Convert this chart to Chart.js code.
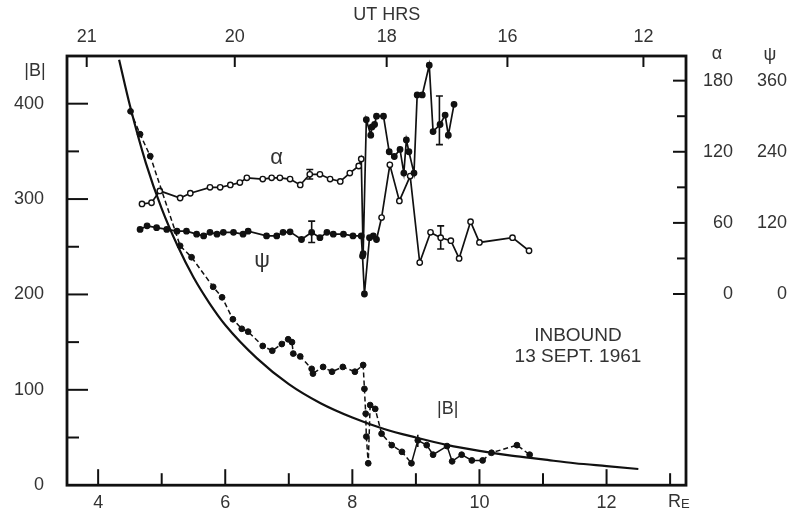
<!DOCTYPE html>
<html>
<head>
<meta charset="utf-8">
<title>Inbound 13 Sept 1961</title>
<script src="https://cdn.jsdelivr.net/npm/chart.js@4.4.0/dist/chart.umd.min.js"></script>
<style>
   html, body { margin: 0; padding: 0; background: #fff; }
   #fieldChart { display: block; }
</style>
</head>
<body>
<canvas id="fieldChart" width="791" height="519"></canvas>
<script>

// axes
const reMin = 3.51;
const reMax = 13.25;
const reTicks = [4, 6, 8, 10, 12];
const reMinorTicks = [5, 7, 9, 11, 13];
const utTickPos = [3.82, 6.15, 8.54, 10.44, 12.58];
const utTickLabels = ['21', '20', '18', '16', '12'];
const bTicks = [0, 100, 200, 300, 400];
const bMinorTicks = [50, 150, 250, 350];
const alphaTicks = [0, 60, 120, 180];
const alphaMinorTicks = [30, 90, 150];
const psiTicks = [0, 120, 240, 360];

// |B| measured (gammas)
const obsR = [4.51, 4.66, 4.82, 5.29, 5.47, 5.81, 5.95, 6.12, 6.26, 6.36, 6.59, 6.74, 6.89, 6.99, 7.05,
              7.07, 7.18, 7.36, 7.38, 7.54, 7.68, 7.85, 8.04, 8.17, 8.19, 8.21, 8.22, 8.25, 8.28, 8.36,
              8.46, 8.62, 8.78, 8.93, 9.03, 9.17, 9.27, 9.49, 9.57, 9.72, 9.88, 10.05, 10.19, 10.59, 10.79];
const obsB = [392, 368, 345, 251, 239, 208, 197, 174, 164, 161, 146, 141, 148, 153, 150,
              138, 135, 122, 117, 124, 119, 124, 119, 126, 101, 75, 51, 23, 84, 80,
              54, 42, 35, 23, 47, 42, 32, 41, 25, 32, 26, 26, 34, 42, 32];

// |B| reference curve
const curveR = [4.33, 4.5, 4.75, 5.0, 5.25, 5.5, 5.75, 6.0, 6.5, 7.0, 7.5, 8.0, 8.5, 9.0, 9.5, 10.0, 10.5, 11.0, 11.5, 12.0, 12.5];
const curveB = [446, 398, 338, 290, 251, 218, 191, 168, 133, 106, 86, 71, 59, 50, 42, 36, 31, 27, 23, 20, 17];

// alpha (deg)
const alphaR = [4.69, 4.84, 4.97, 5.29, 5.45, 5.76, 5.92, 6.08, 6.23, 6.34, 6.59, 6.73, 6.86, 7.02, 7.18,
                7.33, 7.49, 7.65, 7.81, 7.96, 8.10, 8.14, 8.17, 8.22, 8.29, 8.31, 8.35, 8.38, 8.49, 8.58,
                8.66, 8.75, 8.81, 8.85, 8.89, 8.97, 9.02, 9.10, 9.21, 9.27, 9.38, 9.46, 9.51, 9.60];
const alphaV = [76, 77, 87, 81, 85, 90, 90, 92, 94, 98, 97, 98, 98, 97, 92,
                101, 101, 97, 95, 102, 108, 114, 34, 147, 134, 141, 143, 150, 150, 120,
                116, 122, 102, 130, 120, 102, 168, 168, 193, 137, 143, 151, 134, 160];

// psi (deg)
const psiR = [4.66, 4.77, 4.92, 5.08, 5.24, 5.39, 5.55, 5.66, 5.76, 5.87, 5.97, 6.13, 6.28, 6.36, 6.65,
              6.81, 6.91, 7.02, 7.20, 7.36, 7.49, 7.60, 7.70, 7.86, 8.01, 8.14, 8.16, 8.19, 8.27, 8.33,
              8.38, 8.46, 8.59, 8.74, 8.91, 9.06, 9.23, 9.39, 9.55, 9.68, 9.86, 10.00, 10.52, 10.78];
const psiV = [109, 115, 112, 109, 106, 106, 101, 98, 104, 101, 104, 104, 101, 106, 98,
              98, 104, 105, 92, 104, 95, 104, 101, 101, 98, 98, 64, 0, 95, 98,
              92, 129, 218, 157, 199, 53, 104, 95, 90, 60, 122, 87, 95, 73];

// error bars
const alphaErrR = [7.33, 9.37];
const alphaErrLo = [97, 126];
const alphaErrHi = [105, 167];
const psiErrR = [7.36, 9.39];
const psiErrLo = [87, 76];
const psiErrHi = [123, 115];
const gapMarkR = [9.03];
const gapMarkLo = [40];
const gapMarkHi = [53];

const FONT = '"Liberation Sans", Arial, sans-serif';
const INK = '#111';
const TEXT = '#333';

function pts(xs, ys) {
   return xs.map((x, i) => ({ x: x, y: ys[i] }));
}

function errBars(xs, lo, hi, axis, caps) {
   return xs.map((x, i) => ({
      data: [{ x: x, y: lo[i] }, { x: x, y: hi[i] }],
      yAxisID: axis,
      borderColor: INK,
      borderWidth: 1.6,
      pointStyle: 'line',
      pointRadius: caps ? 3.5 : 0,
      pointBorderWidth: 1.6,
      pointBorderColor: INK
   }));
}

function fixSize(prop, v) {
   return scale => { scale[prop] = v; };
}

function setTicks(list) {
   return scale => { scale.ticks = list.map(v => ({ value: v })); };
}

const frameAndLabels = {
   id: 'frameAndLabels',
   afterDraw(chart) {
      const ctx = chart.ctx;
      const a = chart.chartArea;
      const s = chart.scales;
      const seg = (x1, y1, x2, y2) => {
         ctx.beginPath(); ctx.moveTo(x1, y1); ctx.lineTo(x2, y2); ctx.stroke();
      };

      ctx.save();
      ctx.strokeStyle = INK;
      ctx.lineWidth = 2;
      bTicks.forEach(v => { const y = s.y.getPixelForValue(v); if (v > 0) seg(a.left, y, a.left + 21, y); });
      bMinorTicks.forEach(v => { const y = s.y.getPixelForValue(v); seg(a.left, y, a.left + 12, y); });
      alphaTicks.forEach(v => { const y = s.yA.getPixelForValue(v); seg(a.right, y, a.right - 13, y); });
      alphaMinorTicks.forEach(v => { const y = s.yA.getPixelForValue(v); seg(a.right, y, a.right - 9, y); });
      reTicks.forEach(v => { const x = s.x.getPixelForValue(v); seg(x, a.bottom, x, a.bottom - 16); });
      reMinorTicks.forEach(v => { const x = s.x.getPixelForValue(v); seg(x, a.bottom, x, a.bottom - 12); });
      utTickPos.forEach(v => { const x = s.xTop.getPixelForValue(v); seg(x, a.top, x, a.top + 11); });

      ctx.lineWidth = 2.8;
      ctx.strokeRect(a.left, a.top, a.right - a.left, a.bottom - a.top);

      // axis headers
      ctx.fillStyle = TEXT;
      ctx.textAlign = 'center';
      ctx.textBaseline = 'middle';
      ctx.font = '18px ' + FONT;
      ctx.fillText('UT HRS', s.xTop.getPixelForValue(8.54), 15);
      ctx.fillText('|B|', s.y.right - 32, a.top + 15);
      ctx.fillText('α', s.yA.right - 16, a.top - 2);
      ctx.fillText('ψ', s.yP.right - 17, a.top - 1);

      ctx.textAlign = 'left';
      const rx = s.x.getPixelForValue(13.0) - 2;
      ctx.fillText('R', rx, a.bottom + 17);
      const rw = ctx.measureText('R').width;
      ctx.font = '13px ' + FONT;
      ctx.fillText('E', rx + rw, a.bottom + 19);

      // curve labels
      ctx.textAlign = 'center';
      ctx.font = '22px ' + FONT;
      ctx.fillText('α', s.x.getPixelForValue(6.81), s.yA.getPixelForValue(115));
      ctx.fillText('ψ', s.x.getPixelForValue(6.58), s.y.getPixelForValue(235));
      ctx.font = '18px ' + FONT;
      ctx.fillText('|B|', s.x.getPixelForValue(9.50), s.y.getPixelForValue(80));
      ctx.font = '19px ' + FONT;
      ctx.fillText('INBOUND', s.x.getPixelForValue(11.55), s.y.getPixelForValue(157));
      ctx.fillText('13 SEPT. 1961', s.x.getPixelForValue(11.55), s.y.getPixelForValue(135));
      ctx.restore();
   }
}; //end of plugin

const tickFont = { family: FONT, size: 18 };

var ctx = document.getElementById('fieldChart').getContext('2d');
var fieldChart = new Chart(ctx, {
   type: 'line',
   data: {
      datasets: [
         {
            label: 'dipole',
            data: pts(curveR, curveB),
            yAxisID: 'y',
            borderColor: INK,
            borderWidth: 2.2,
            pointRadius: 0,
            cubicInterpolationMode: 'monotone'
         },
         {
            label: '|B|',
            data: pts(obsR, obsB),
            yAxisID: 'y',
            borderColor: INK,
            borderWidth: 1.5,
            borderDash: [5, 3],
            segment: {
               borderDash: c => (c.p0.parsed.x >= 8.93 && c.p1.parsed.x <= 10.06) ? [] : [5, 3]
            },
            pointRadius: 2.9,
            pointBackgroundColor: INK,
            pointBorderColor: INK,
            pointBorderWidth: 1
         },
         {
            label: 'alpha',
            data: pts(alphaR, alphaV),
            yAxisID: 'yA',
            borderColor: INK,
            borderWidth: 1.7,
            pointRadius: 2.7,
            pointBorderWidth: 1.4,
            pointBorderColor: INK,
            pointBackgroundColor: c => (c.raw && c.raw.x > 8.15) ? INK : '#fff'
         },
         {
            label: 'psi',
            data: pts(psiR, psiV),
            yAxisID: 'yP',
            borderColor: INK,
            borderWidth: 1.7,
            pointRadius: 2.7,
            pointBorderWidth: 1.4,
            pointBorderColor: INK,
            pointBackgroundColor: c => (c.raw && c.raw.x > 8.42) ? '#fff' : INK
         },
         ...errBars(alphaErrR, alphaErrLo, alphaErrHi, 'yA', true),
         ...errBars(psiErrR, psiErrLo, psiErrHi, 'yP', true),
         ...errBars(gapMarkR, gapMarkLo, gapMarkHi, 'y', false)
      ]
   },
   options: {
      responsive: false,
      animation: false,
      layout: { padding: { left: 0, right: 4, top: 0, bottom: 0 } },
      plugins: {
         legend: { display: false },
         tooltip: { enabled: false }
      },
      scales: {
         x: {
            type: 'linear', position: 'bottom', min: reMin, max: reMax,
            grid: { display: false, drawTicks: false },
            border: { display: false },
            afterBuildTicks: setTicks(reTicks),
            afterFit: fixSize('height', 32),
            ticks: { color: TEXT, font: tickFont, padding: 7, maxRotation: 0 }
         },
         xTop: {
            type: 'linear', position: 'top', min: reMin, max: reMax,
            grid: { display: false, drawTicks: false },
            border: { display: false },
            afterBuildTicks: setTicks(utTickPos),
            afterFit: fixSize('height', 56),
            ticks: { color: TEXT, font: tickFont, padding: 8, maxRotation: 0,
                     callback: (v, i) => utTickLabels[i] }
         },
         y: {
            type: 'linear', position: 'left', min: 0, max: 450,
            grid: { display: false, drawTicks: false },
            border: { display: false },
            afterBuildTicks: setTicks(bTicks),
            afterFit: fixSize('width', 67),
            ticks: { color: TEXT, font: tickFont, padding: 23 }
         },
         yA: {
            type: 'linear', position: 'right', min: -161.3, max: 200.8, weight: 0,
            grid: { display: false, drawTicks: false },
            border: { display: false },
            afterBuildTicks: setTicks(alphaTicks),
            afterFit: fixSize('width', 47),
            ticks: { color: TEXT, font: tickFont, crossAlign: 'far' }
         },
         yP: {
            type: 'linear', position: 'right', min: -322.6, max: 401.6, weight: 1,
            grid: { display: false, drawTicks: false },
            border: { display: false },
            afterBuildTicks: setTicks(psiTicks),
            afterFit: fixSize('width', 54),
            ticks: { color: TEXT, font: tickFont, crossAlign: 'far' }
         }
      }
   },
   plugins: [frameAndLabels]
}); // end of chart

</script>
</body>
</html>
